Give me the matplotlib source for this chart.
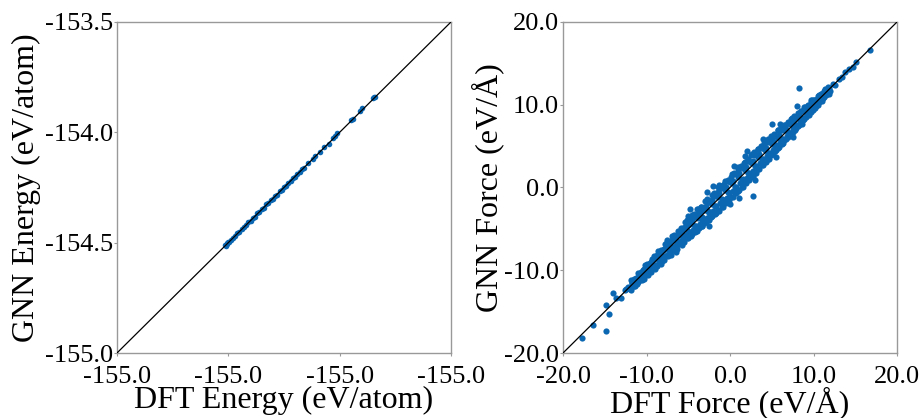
import matplotlib
matplotlib.use("Agg")
import matplotlib.pyplot as plt
from matplotlib.ticker import FixedLocator, FixedFormatter

plt.rcParams['font.family'] = ['Liberation Serif', 'DejaVu Serif']

# energy parity (eV/atom)
dft_energy = [-154.515, -154.512, -154.508, -154.505, -154.50, -154.495, -154.49, -154.48,
              -154.47, -154.46, -154.45, -154.44, -154.43, -154.42, -154.41, -154.40,
              -154.39, -154.38, -154.37, -154.36, -154.35, -154.34, -154.33, -154.32,
              -154.31, -154.30, -154.29, -154.28, -154.27, -154.26, -154.25, -154.24,
              -154.23, -154.22, -154.21, -154.20, -154.19, -154.18, -154.17, -154.16,
              -154.14, -154.12, -154.11, -154.09, -154.07, -154.05, -154.03, -154.02,
              -154.01, -153.95, -153.94, -153.91, -153.90, -153.85, -153.845, -153.84]
gnn_energy = [-154.510, -154.516, -154.505, -154.500, -154.497, -154.498, -154.487, -154.477,
              -154.472, -154.458, -154.452, -154.437, -154.428, -154.421, -154.407, -154.401,
              -154.388, -154.382, -154.366, -154.362, -154.348, -154.343, -154.327, -154.321,
              -154.308, -154.302, -154.287, -154.283, -154.268, -154.262, -154.247, -154.242,
              -154.228, -154.222, -154.207, -154.202, -154.188, -154.182, -154.168, -154.161,
              -154.139, -154.121, -154.108, -154.091, -154.068, -154.052, -154.028, -154.017,
              -154.005, -153.945, -153.938, -153.905, -153.892, -153.845, -153.842, -153.838]

energy_ticks = [-155.0, -154.5, -154.0, -153.5]
energy_xtick_labels = ['-155.0', '-155.0', '-155.0', '-155.0']
energy_ytick_labels = ['-155.0', '-154.5', '-154.0', '-153.5']

# force parity (eV/A)
dft_force = [
    -17.7, -16.4, -14.85, -14.5, -14.85, -14.0, -13.6, -13.0,
    -12.6, -12.2, -12.0, -11.7, -11.5, -11.3, -11.0, -10.8, -10.6, -10.3, -10.1, -9.9,
    -9.7, -9.5, -9.3, -9.1, -8.9, -8.7, -8.5, -8.3, -8.1, -7.9, -7.7, -7.6, -7.4, -7.2,
    -7.0, -6.8, -6.6, -6.5, -6.3, -6.1, -5.9, -5.8, -5.6, -5.4, -5.2, -5.0, -4.9, -4.7,
    -4.5, -4.3, -4.1, -3.9, -3.7, -3.5, -3.3, -3.1, -2.9, -2.7, -2.5, -2.3, -2.1, -1.9,
    -1.7, -1.5, -1.3, -1.1, -0.9, -0.7, -0.5, -0.3, -0.1, 0.1, 0.3, 0.5, 0.7, 0.9,
    1.1, 1.3, 1.5, 1.7, 1.9, 2.1, 2.3, 2.5, 2.7, 2.9, 3.1, 3.3, 3.5, 3.7, 3.9, 4.1,
    4.3, 4.5, 4.7, 4.9, 5.1, 5.3, 5.5, 5.7, 5.9, 6.1, 6.3, 6.5, 6.7, 6.9, 7.1, 7.3,
    7.5, 7.7, 7.9, 8.1, 8.3, 8.5, 8.7, 8.9, 9.1, 9.3, 9.5, 9.7, 9.9, 10.1, 10.3, 10.5,
    10.7, 10.9, 11.1, 11.3, 11.5, 11.8, 12.0, 12.3, 12.6, 13.0, 13.4, 13.8, 14.3, 14.7,
    15.1, 16.8,
    -12.4, -11.4, -10.4, -9.4, -8.6, -8.0, -7.5, -7.0, -6.4, -6.0, -5.5, -5.0, -4.6,
    -4.2, -3.8, -3.4, -3.0, -2.6, -2.2, -1.8, -1.4, -1.0, -0.6, -0.2, 0.2, 0.6, 1.0,
    1.4, 1.8, 2.2, 2.6, 3.0, 3.4, 3.8, 4.2, 4.6, 5.0, 5.4, 5.8, 6.2, 6.6, 7.0, 7.4,
    7.8, 8.2, 8.6, 9.0, 9.4, 9.8, 10.2, 10.6, 11.0, 11.4,
    -5.0, -4.0, -3.5, -2.0, -1.3, 0.0, 0.5, 1.8, 2.0, 3.0, 4.0, 5.5, 6.0, 7.5, 8.0,
    -2.5, -6.5, -7.5, -8.3, 9.7, 8.3, 5.0, 2.75, 1.1, -2.75, -4.8,
    -11.8, -11.4, -11.0, -10.6, -10.2, -9.8, -9.4, -9.0, -8.6, -8.2, -7.8, -7.4,
    -7.0, -6.6, -6.2, -5.8, -5.4, -5.0, -4.6, -4.2, -3.8, -3.4, -3.0, -2.6, -2.2,
    -1.8, -1.4, -1.0, -0.6, -0.2, 0.2, 0.6, 1.0, 1.4, 1.8, 2.2, 2.6, 3.0, 3.4, 3.8,
    4.2, 4.6, 5.0, 5.4, 5.8, 6.2, 6.6, 7.0, 7.4, 7.8, 8.2, 8.6, 9.0, 9.4, 9.8,
    10.2, 10.6, 11.0, 11.4, 11.8,
    -11.6, -11.2, -10.8, -10.4, -10.0, -9.6, -9.2, -8.8, -8.4, -8.0, -7.6, -7.2,
    -6.8, -6.4, -6.0, -5.6, -5.2, -4.8, -4.4, -4.0, -3.6, -3.2, -2.8, -2.4, -2.0,
    -1.6, -1.2, -0.8, -0.4, 0.0, 0.4, 0.8, 1.2, 1.6, 2.0, 2.4, 2.8, 3.2, 3.6, 4.0,
    4.4, 4.8, 5.2, 5.6, 6.0, 6.4, 6.8, 7.2, 7.6, 8.0, 8.4, 8.8, 9.2, 9.6, 10.0,
    10.4, 10.8, 11.2, 11.6,
    -11.9, -11.5, -11.1, -10.7, -10.3, -9.9, -9.5, -9.1, -8.7, -8.3, -7.9, -7.5,
    -7.1, -6.7, -6.3, -5.9, -5.5, -5.1, -4.7, -4.3, -3.9, -3.5, -3.1, -2.7, -2.3,
    -1.9, -1.5, -1.1, -0.7, -0.3, 0.1, 0.5, 0.9, 1.3, 1.7, 2.1, 2.5, 2.9, 3.3, 3.7,
    4.1, 4.5, 4.9, 5.3, 5.7, 6.1, 6.5, 6.9, 7.3, 7.7, 8.1, 8.5, 8.9, 9.3, 9.7,
    10.1, 10.5, 10.9, 11.3, 11.7,
    -11.7, -11.3, -10.9, -10.5, -10.1, -9.7, -9.3, -8.9, -8.5, -8.1, -7.7, -7.3,
    -6.9, -6.5, -6.1, -5.7, -5.3, -4.9, -4.5, -4.1, -3.7, -3.3, -2.9, -2.5, -2.1,
    -1.7, -1.3, -0.9, -0.5, -0.1, 0.3, 0.7, 1.1, 1.5, 1.9, 2.3, 2.7, 3.1, 3.5, 3.9,
    4.3, 4.7, 5.1, 5.5, 5.9, 6.3, 6.7, 7.1, 7.5, 7.9, 8.3, 8.7, 9.1, 9.5, 9.9,
    10.3, 10.7, 11.1, 11.5,
]
gnn_force = [
    -18.2, -16.6, -17.3, -15.3, -14.2, -12.7, -13.4, -13.3,
    -12.4, -12.0, -12.3, -11.5, -11.9, -11.0, -11.4, -10.5, -10.9, -9.9, -10.6, -9.6,
    -10.2, -9.0, -9.8, -8.7, -9.5, -8.2, -9.0, -8.0, -8.8, -7.4, -8.3, -7.1, -8.1, -6.7,
    -7.6, -6.2, -7.3, -6.0, -7.0, -5.5, -6.7, -5.2, -6.4, -4.8, -6.1, -4.5, -5.8, -4.0,
    -5.6, -3.6, -5.2, -3.2, -4.9, -2.8, -4.6, -2.3, -4.2, -1.9, -3.9, -1.6, -3.5, -1.0,
    -3.1, -0.5, -2.8, -0.1, -2.3, 0.4, -1.9, 0.8, -1.5, 1.3, -1.1, 1.7, -0.7, 2.2,
    -0.3, 2.6, 0.1, 3.0, 0.5, 3.4, 0.9, 3.9, 1.3, 4.3, 1.8, 4.6, 2.2, 5.0, 2.7, 5.4,
    3.1, 5.8, 3.5, 6.2, 4.0, 6.5, 4.5, 6.9, 4.9, 7.2, 5.4, 7.6, 5.8, 7.9, 6.3, 8.3,
    6.7, 8.6, 7.2, 9.0, 7.6, 9.3, 8.1, 9.7, 8.5, 10.0, 9.0, 10.3, 9.4, 10.6, 9.9, 11.0,
    10.3, 11.3, 10.8, 11.7, 11.2, 12.0, 11.7, 12.5, 12.4, 13.1, 13.4, 13.9, 14.3, 14.6,
    15.2, 16.6,
    -12.3, -11.5, -10.2, -9.5, -8.4, -8.3, -7.3, -7.2, -6.5, -5.8, -5.7, -5.3, -4.4,
    -4.6, -3.7, -3.6, -2.7, -2.9, -2.0, -2.2, -1.2, -1.4, -0.3, -0.6, 0.5, 0.1, 1.3,
    0.9, 2.1, 1.8, 2.9, 2.6, 3.7, 3.4, 4.5, 4.2, 5.3, 5.0, 6.0, 5.9, 6.9, 6.7, 7.6,
    7.5, 8.4, 8.3, 9.2, 9.2, 10.0, 10.0, 10.8, 10.8, 11.5,
    -3.4, -2.6, -2.3, 0.2, 0.3, -2.0, 2.6, 3.8, 4.4, 0.9, 5.9, 3.7, 7.7, 6.1, 9.8,
    -4.6, -7.8, -6.4, -9.3, 10.6, 12.0, 7.7, -1.0, -1.3, -0.5, -2.6,
    -11.2, -11.9, -10.3, -11.2, -9.4, -10.6, -8.7, -9.9, -7.7, -8.9, -6.8, -8.3,
    -5.9, -7.6, -5.2, -7.0, -4.2, -6.1, -3.3, -5.4, -2.6, -4.7, -1.6, -3.8, -0.9,
    -3.2, 0.1, -2.3, 0.8, -1.7, 1.6, -0.7, 2.5, 0.0, 3.1, 1.0, 4.0, 1.7, 4.6, 2.7,
    5.4, 3.4, 6.1, 4.4, 6.9, 5.2, 7.5, 6.1, 8.4, 7.0, 9.0, 7.7, 9.7, 8.7, 10.6,
    9.6, 11.2, 10.4, 11.9, 11.3,
    -11.9, -10.9, -11.2, -10.0, -10.3, -9.1, -9.7, -8.4, -9.0, -7.5, -8.1, -6.6,
    -7.5, -5.8, -6.6, -4.9, -6.0, -4.1, -5.1, -3.2, -4.4, -2.5, -3.7, -1.6, -2.8,
    -0.7, -1.9, 0.0, -1.3, 0.7, -0.4, 1.7, 0.5, 2.4, 1.2, 3.1, 2.0, 3.9, 2.9, 4.8,
    3.8, 5.5, 4.5, 6.2, 5.4, 6.9, 6.2, 7.7, 7.1, 8.4, 7.9, 9.2, 8.8, 9.9, 9.6,
    10.7, 10.5, 11.5, 11.4,
    -12.4, -11.1, -11.7, -10.2, -11.0, -9.3, -10.2, -8.3, -9.5, -7.5, -8.8, -6.6,
    -8.1, -5.7, -7.4, -4.9, -6.6, -3.9, -5.9, -3.2, -5.2, -2.3, -4.3, -1.4, -3.6,
    -0.7, -2.7, 0.2, -1.8, 0.9, -1.1, 1.6, -0.4, 2.5, 0.6, 3.3, 1.4, 3.9, 2.2, 4.8,
    3.1, 5.5, 3.9, 6.2, 4.8, 7.0, 5.7, 7.8, 6.5, 8.4, 7.4, 9.2, 8.3, 9.9, 9.1,
    10.6, 10.0, 11.3, 10.9, 12.1,
    -11.5, -11.6, -10.6, -10.8, -9.7, -10.1, -8.9, -9.4, -8.0, -8.5, -7.2, -7.8,
    -6.3, -7.0, -5.5, -6.3, -4.8, -5.5, -3.9, -4.6, -3.1, -3.9, -2.4, -3.1, -1.5,
    -2.2, -0.7, -1.5, 0.0, -0.7, 0.8, 0.1, 1.7, 1.0, 2.5, 1.7, 3.2, 2.6, 4.1, 3.4,
    4.8, 4.2, 5.6, 5.1, 6.4, 5.9, 7.1, 6.6, 7.9, 7.5, 8.7, 8.4, 9.4, 9.2, 10.2,
    10.0, 10.9, 10.9, 11.7,
]

force_ticks = [-20.0, -10.0, 0.0, 10.0, 20.0]
force_tick_labels = ['-20.0', '-10.0', '0.0', '10.0', '20.0']

point_color = '#0b67b2'
spine_color = '#999999'

fig = plt.figure(figsize=(9.21, 4.18), dpi=100)
ax1 = fig.add_axes([0.127, 0.1555, 0.3627, 0.792])
ax2 = fig.add_axes([0.6113, 0.1555, 0.3627, 0.792])


def style(ax):
    for sp in ax.spines.values():
        sp.set_color(spine_color)
        sp.set_linewidth(1.0)
    ax.tick_params(direction='out', length=2, width=0.8, color=spine_color,
                   labelsize=19, pad=1)
    ax.tick_params(axis='x', pad=7)


# left: energy
ax1.scatter(dft_energy, gnn_energy, s=16, color=point_color, zorder=2, linewidths=0)
ax1.plot([-155.0, -153.5], [-155.0, -153.5], color='black', lw=0.9, zorder=3)
ax1.set_xlim(-155.0, -153.5)
ax1.set_ylim(-155.0, -153.5)
ax1.xaxis.set_major_locator(FixedLocator(energy_ticks))
ax1.xaxis.set_major_formatter(FixedFormatter(energy_xtick_labels))
ax1.yaxis.set_major_locator(FixedLocator(energy_ticks))
ax1.yaxis.set_major_formatter(FixedFormatter(energy_ytick_labels))
ax1.set_xlabel('DFT Energy (eV/atom)', fontsize=23, labelpad=-1)
ax1.set_ylabel('GNN Energy (eV/atom)', fontsize=23, labelpad=3)
style(ax1)

# right: force
ax2.scatter(dft_force, gnn_force, s=20, color=point_color, zorder=2, linewidths=0)
ax2.plot([-20, 20], [-20, 20], color='black', lw=0.9, zorder=3)
ax2.set_xlim(-20, 20)
ax2.set_ylim(-20, 20)
ax2.xaxis.set_major_locator(FixedLocator(force_ticks))
ax2.xaxis.set_major_formatter(FixedFormatter(force_tick_labels))
ax2.yaxis.set_major_locator(FixedLocator(force_ticks))
ax2.yaxis.set_major_formatter(FixedFormatter(force_tick_labels))
ax2.set_xlabel('DFT Force (eV/Å)', fontsize=23, labelpad=-1)
ax2.set_ylabel('GNN Force (eV/Å)', fontsize=23, labelpad=0)
style(ax2)

fig.savefig('out.png', dpi=100)
